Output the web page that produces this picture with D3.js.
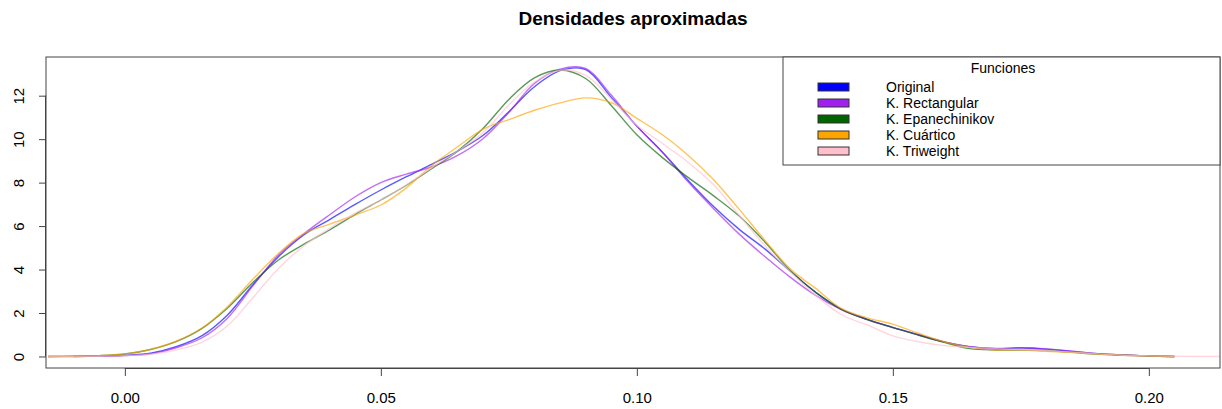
<!DOCTYPE html>
<html>
<head>
<meta charset="utf-8">
<script src="https://cdn.jsdelivr.net/npm/d3@7"></script>
<style>
  body { margin: 0; background: #fff; }
  svg text { font-family: "Liberation Sans", Arial, sans-serif; fill: #000; }
</style>
</head>
<body>
<svg id="chart" width="1222" height="409"></svg>
<script>
var xs = [-0.015, -0.01, -0.005, 0, 0.005, 0.01, 0.015, 0.02, 0.025, 0.03,
  0.035, 0.04, 0.045, 0.05, 0.055, 0.06, 0.065, 0.07, 0.075, 0.08,
  0.085, 0.09, 0.095, 0.10, 0.105, 0.11, 0.115, 0.12, 0.125, 0.13,
  0.135, 0.14, 0.145, 0.15, 0.155, 0.16, 0.165, 0.17, 0.175, 0.18,
  0.185, 0.19, 0.195, 0.20, 0.205, 0.21, 0.215];

var original = [null, 0.0, 0.02, 0.06, 0.15, 0.45, 0.95, 1.9, 3.3, 4.59,
  5.6, 6.3, 7.0, 7.66, 8.27, 8.85, 9.45, 10.18, 11.26, 12.41,
  13.15, 13.2, 11.92, 10.6, 9.4, 8.11, 6.9, 5.85, 4.95, 3.92,
  2.94, 2.17, 1.71, 1.34, 1.0, 0.67, 0.45, 0.36, 0.39, 0.34,
  0.23, 0.13, 0.07, 0.02, 0.0, null, null];

var rectangular = [0.0, 0.0, 0.01, 0.04, 0.12, 0.4, 0.85, 1.75, 3.25, 4.67,
  5.65, 6.52, 7.35, 8.0, 8.39, 8.73, 9.25, 10.03, 11.23, 12.56,
  13.22, 13.25, 12.03, 10.6, 9.4, 8.04, 6.8, 5.63, 4.6, 3.64,
  2.8, 2.15, 1.7, 1.33, 1.0, 0.67, 0.45, 0.37, 0.4, 0.35,
  0.24, 0.13, 0.07, 0.02, 0.0, null, null];

var epanechnikov = [0.0, 0.01, 0.04, 0.12, 0.32, 0.68, 1.28, 2.22, 3.4, 4.44,
  5.17, 5.82, 6.54, 7.2, 7.88, 8.65, 9.45, 10.5, 11.83, 12.82,
  13.18, 12.79, 11.55, 10.2, 9.15, 8.24, 7.39, 6.46, 5.27, 3.95,
  2.94, 2.17, 1.7, 1.33, 0.98, 0.65, 0.36, 0.3, 0.3, 0.27,
  0.19, 0.11, 0.06, 0.02, 0.0, null, null];

var cuartico = [0.0, 0.01, 0.04, 0.12, 0.32, 0.7, 1.3, 2.28, 3.55, 4.74,
  5.66, 6.09, 6.51, 6.97, 7.76, 8.8, 9.65, 10.46, 10.9, 11.33,
  11.67, 11.9, 11.68, 10.96, 10.2, 9.26, 8.13, 6.77, 5.35, 4.02,
  3.12, 2.2, 1.78, 1.49, 1.07, 0.68, 0.42, 0.3, 0.3, 0.24,
  0.19, 0.11, 0.06, 0.02, 0.0, null, null];

var triweight = [0.0, 0.0, 0.01, 0.04, 0.1, 0.3, 0.65, 1.4, 2.7, 4.05,
  5.1, 5.9, 6.6, 7.2, 7.9, 8.7, 9.45, 10.3, 11.57, 12.63,
  13.17, 12.94, 11.85, 10.64, 9.8, 8.94, 7.9, 6.5, 5.1, 3.9,
  2.8, 1.92, 1.45, 0.95, 0.68, 0.5, 0.42, 0.36, 0.32, 0.27,
  0.2, 0.12, 0.06, 0.03, 0.01, 0.0, 0.0];

var seriesNames = ["Original", "K. Rectangular", "K. Epanechinikov", "K. Cuártico", "K. Triweight"];
var seriesColors = ["#0000ff", "#a020f0", "#006400", "#ffa500", "#ffc0cb"];
var seriesValues = [original, rectangular, epanechnikov, cuartico, triweight];

var xTicks = [0, 0.05, 0.10, 0.15, 0.20];
var yTicks = [0, 2, 4, 6, 8, 10, 12];

var svg = d3.select('#chart');

var plotLeft = 46, plotRight = 1220, plotTop = 57, plotBottom = 368;

var x = d3.scaleLinear()
  .domain([-0.0154, 0.2139])
  .range([plotLeft, plotRight]);

var y = d3.scaleLinear()
  .domain([-0.53, 13.78])
  .range([plotBottom, plotTop]);

svg.append('defs').append('clipPath')
  .attr('id', 'plotclip')
  .append('rect')
  .attr('x', plotLeft).attr('y', plotTop)
  .attr('width', plotRight - plotLeft).attr('height', plotBottom - plotTop);

// title
svg.append('text')
  .attr('x', (plotLeft + plotRight) / 2)
  .attr('y', 25)
  .attr('text-anchor', 'middle')
  .style('font-weight', 'bold')
  .style('font-size', '19px')
  .text('Densidades aproximadas');

// curves
var line = d3.line()
  .defined(function(d) { return d.v != null; })
  .x(function(d) { return x(d.x); })
  .y(function(d) { return y(d.v); })
  .curve(d3.curveCatmullRom.alpha(0.5));

var paths = svg.append('g').attr('clip-path', 'url(#plotclip)');
for (var s = 0; s < seriesValues.length; s++) {
  var pts = xs.map(function(xv, i) { return { x: xv, v: seriesValues[s][i] }; });
  paths.append('path')
    .datum(pts)
    .attr('d', line)
    .style('fill', 'none')
    .style('stroke', seriesColors[s])
    .style('stroke-opacity', 0.65)
    .style('stroke-width', 1.4);
}

// box
svg.append('rect')
  .attr('x', plotLeft).attr('y', plotTop)
  .attr('width', plotRight - plotLeft).attr('height', plotBottom - plotTop)
  .style('fill', 'none')
  .style('stroke', '#444')
  .style('stroke-width', 1);

// x axis
var xAxis = d3.axisBottom(x)
  .tickValues(xTicks)
  .tickFormat(d3.format('.2f'))
  .tickSizeInner(8)
  .tickSizeOuter(0)
  .tickPadding(16);

var gx = svg.append('g')
  .attr('transform', 'translate(0,' + plotBottom + ')')
  .call(xAxis);
gx.select('.domain')
  .attr('d', 'M' + x(xTicks[0]) + ',0.5H' + x(xTicks[xTicks.length - 1]))
  .attr('stroke', '#444');
gx.selectAll('.tick line').attr('stroke', '#444');
gx.selectAll('.tick text')
  .style('font-size', '15px');

// y axis
var yAxis = d3.axisLeft(y)
  .tickValues(yTicks)
  .tickSizeInner(7)
  .tickSizeOuter(0)
  .tickFormat(d3.format('d'));

var gy = svg.append('g')
  .attr('transform', 'translate(' + plotLeft + ',0)')
  .call(yAxis);
gy.select('.domain')
  .attr('d', 'M-0.5,' + y(yTicks[0]) + 'V' + y(yTicks[yTicks.length - 1]))
  .attr('stroke', '#444');
gy.selectAll('.tick line').attr('stroke', '#444');
gy.selectAll('.tick text')
  .attr('x', null).attr('dy', null)
  .attr('text-anchor', 'middle')
  .attr('transform', 'translate(-22,0) rotate(-90)')
  .style('font-size', '15px');

// legend
var lg = svg.append('g');
var lgLeft = 783, lgTop = 57, lgBottom = 165;
lg.append('rect')
  .attr('x', lgLeft).attr('y', lgTop)
  .attr('width', plotRight - lgLeft).attr('height', lgBottom - lgTop)
  .style('fill', '#fff')
  .style('stroke', '#444');

lg.append('text')
  .attr('x', 1003).attr('y', 73)
  .attr('text-anchor', 'middle')
  .style('font-size', '14px')
  .text('Funciones');

var row = d3.scaleLinear().domain([0, 1]).range([87, 103]);
seriesNames.forEach(function(name, i) {
  lg.append('rect')
    .attr('x', 818).attr('y', row(i) - 4)
    .attr('width', 31).attr('height', 8)
    .style('fill', seriesColors[i])
    .style('stroke', '#333')
    .style('stroke-width', 1);
  lg.append('text')
    .attr('x', 886).attr('y', row(i) + 5)
    .style('font-size', '14px')
    .text(name);
});
</script>
</body>
</html>
